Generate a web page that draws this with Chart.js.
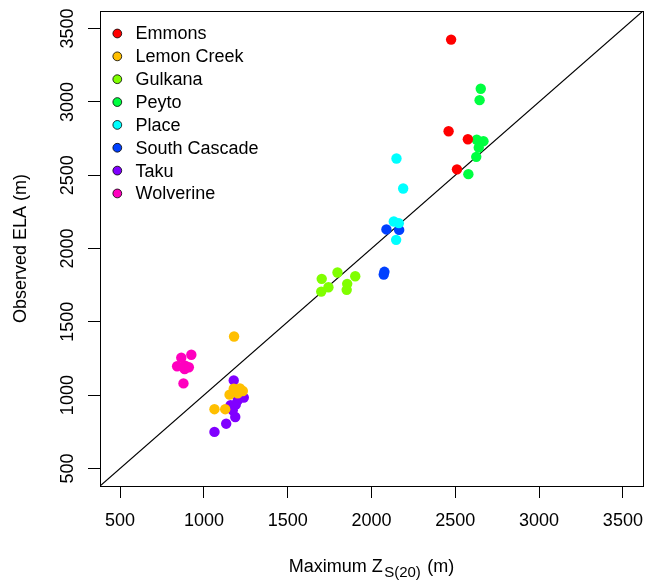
<!DOCTYPE html>
<html>
<head>
<meta charset="utf-8">
<script src="https://cdn.jsdelivr.net/npm/chart.js@4/dist/chart.umd.min.js"></script>
<style>
  html, body { margin: 0; padding: 0; background: #fff; }
  #wrap { width: 649px; height: 582px; }
</style>
</head>
<body>
<div id="wrap"><canvas id="c" width="649" height="582"></canvas></div>
<script>
// ---- data ----
const glaciers = ["Emmons", "Lemon Creek", "Gulkana", "Peyto", "Place", "South Cascade", "Taku", "Wolverine"];
const emmonsZ   = [2475, 2460, 2575, 2510];
const emmonsELA = [3425, 2800, 2745, 2540];
const lemonZ    = [1180, 1178, 1232, 1153, 1202, 1063, 1127, 1215];
const lemonELA  = [1400, 1044, 1028, 1003, 1012, 904, 904, 1045];
const gulkanaZ  = [1703, 1797, 1903, 1855, 1852, 1743, 1700];
const gulkanaELA= [1793, 1836, 1811, 1759, 1718, 1736, 1706];
const peytoZ    = [2652, 2645, 2628, 2668, 2640, 2625, 2578];
const peytoELA  = [3090, 3012, 2742, 2732, 2688, 2625, 2507];
const placeZ    = [2149, 2189, 2133, 2163, 2147];
const placeELA  = [2614, 2409, 2184, 2173, 2059];
const southZ    = [2089, 2165, 2077, 2073];
const southELA  = [2130, 2127, 1841, 1822];
const takuZ     = [1178, 1238, 1202, 1159, 1190, 1172, 1187, 1133, 1063];
const takuELA   = [1100, 983, 965, 931, 935, 897, 851, 805, 749];
const wolvZ     = [865, 925, 840, 888, 910, 885, 878];
const wolvELA   = [1255, 1275, 1197, 1200, 1190, 1177, 1080];
const tickValues = [500, 1000, 1500, 2000, 2500, 3000, 3500];
const axisMin = 380, axisMax = 3620;

const seriesZ = [emmonsZ, lemonZ, gulkanaZ, peytoZ, placeZ, southZ, takuZ, wolvZ];
const seriesELA = [emmonsELA, lemonELA, gulkanaELA, peytoELA, placeELA, southELA, takuELA, wolvELA];
const colors = ["#FF0000", "#FFBF00", "#80FF00", "#00FF40", "#00FFFF", "#0040FF", "#8000FF", "#FF00BF"];

const FONT = "Liberation Sans, Arial, Helvetica, sans-serif";

const datasets = glaciers.map((g, i) => ({
  type: 'scatter',
  label: g,
  data: seriesZ[i].map((x, j) => ({ x: x, y: seriesELA[i][j] })),
  backgroundColor: colors[i],
  borderColor: colors[i],
  borderWidth: 0,
  pointRadius: 5.2,
  pointHoverRadius: 5.2,
  order: 1
}));
datasets.push({
  type: 'line',
  label: '__oneToOne',
  data: [{ x: axisMin, y: axisMin }, { x: axisMax, y: axisMax }],
  borderColor: '#000',
  borderWidth: 1.2,
  pointRadius: 0,
  fill: false,
  order: 2
});

const rPlugin = {
  id: 'rstyle',
  afterDraw(chart) {
    const ctx = chart.ctx;
    const a = chart.chartArea;
    const ys = chart.scales.y;
    ctx.save();
    // box
    ctx.strokeStyle = '#000';
    ctx.lineWidth = 1;
    ctx.strokeRect(Math.round(a.left) + 0.5, Math.round(a.top) + 0.5,
                   Math.round(a.right - a.left), Math.round(a.bottom - a.top));
    // y tick labels (rotated)
    ctx.fillStyle = '#000';
    ctx.font = '18px ' + FONT;
    ctx.textAlign = 'center';
    ctx.textBaseline = 'middle';
    tickValues.forEach(v => {
      const py = ys.getPixelForValue(v);
      ctx.save();
      ctx.translate(68, py);
      ctx.rotate(-Math.PI / 2);
      ctx.fillText(String(v), 0, 0);
      ctx.restore();
    });
    // y title
    ctx.save();
    ctx.translate(21, (a.top + a.bottom) / 2);
    ctx.rotate(-Math.PI / 2);
    ctx.font = '18px ' + FONT;
    ctx.fillText('Observed ELA (m)', 0, 0);
    ctx.restore();
    // x title with subscript
    const p1 = 'Maximum Z', sub = 'S(20)', p2 = ' (m)';
    const gap = 1.5;
    ctx.font = '18px ' + FONT;
    const w1 = ctx.measureText(p1).width, w3 = ctx.measureText(p2).width;
    ctx.font = '15px ' + FONT;
    const w2 = ctx.measureText(sub).width;
    const total = w1 + gap + w2 + gap + w3;
    let x0 = (a.left + a.right) / 2 - total / 2;
    const yb = 572;
    ctx.textAlign = 'left';
    ctx.textBaseline = 'alphabetic';
    ctx.font = '18px ' + FONT;
    ctx.fillText(p1, x0, yb);
    ctx.font = '15px ' + FONT;
    ctx.fillText(sub, x0 + w1 + gap, yb + 4.5);
    ctx.font = '18px ' + FONT;
    ctx.fillText(p2, x0 + w1 + gap + w2 + gap, yb);
    // legend
    ctx.textBaseline = 'middle';
    ctx.font = '18px ' + FONT;
    glaciers.forEach((g, i) => {
      const cy = 33.5 + i * 22.85;
      ctx.beginPath();
      ctx.arc(117.3, cy, 4.4, 0, Math.PI * 2);
      ctx.fillStyle = colors[i];
      ctx.fill();
      ctx.lineWidth = 0.8;
      ctx.strokeStyle = '#000';
      ctx.stroke();
      ctx.fillStyle = '#000';
      ctx.fillText(g, 135.5, cy + 1);
    });
    ctx.restore();
  }
};

new Chart(document.getElementById('c'), {
  data: { datasets: datasets },
  options: {
    responsive: false,
    animation: false,
    events: [],
    layout: { padding: { left: 0, right: 6, top: 11, bottom: 0 } },
    plugins: {
      legend: { display: false },
      tooltip: { enabled: false }
    },
    scales: {
      x: {
        type: 'linear',
        position: 'bottom',
        min: axisMin,
        max: axisMax,
        afterBuildTicks(scale) { scale.ticks = tickValues.map(v => ({ value: v })); },
        afterFit(scale) { scale.height = 96; scale.paddingLeft = 0; scale.paddingRight = 0; },
        grid: { display: true, drawOnChartArea: false, drawTicks: true, tickLength: 12, color: '#000', lineWidth: 1 },
        border: { display: false },
        ticks: { color: '#000', font: { size: 18, family: FONT }, padding: 12, maxRotation: 0, minRotation: 0,
                 callback: v => String(v) }
      },
      y: {
        type: 'linear',
        position: 'left',
        min: axisMin,
        max: axisMax,
        afterBuildTicks(scale) { scale.ticks = tickValues.map(v => ({ value: v })); },
        afterFit(scale) { scale.width = 100; scale.paddingTop = 0; scale.paddingBottom = 0; },
        grid: { display: true, drawOnChartArea: false, drawTicks: true, tickLength: 12, color: '#000', lineWidth: 1 },
        border: { display: false },
        ticks: { display: false }
      }
    }
  },
  plugins: [rPlugin]
});
</script>
</body>
</html>
